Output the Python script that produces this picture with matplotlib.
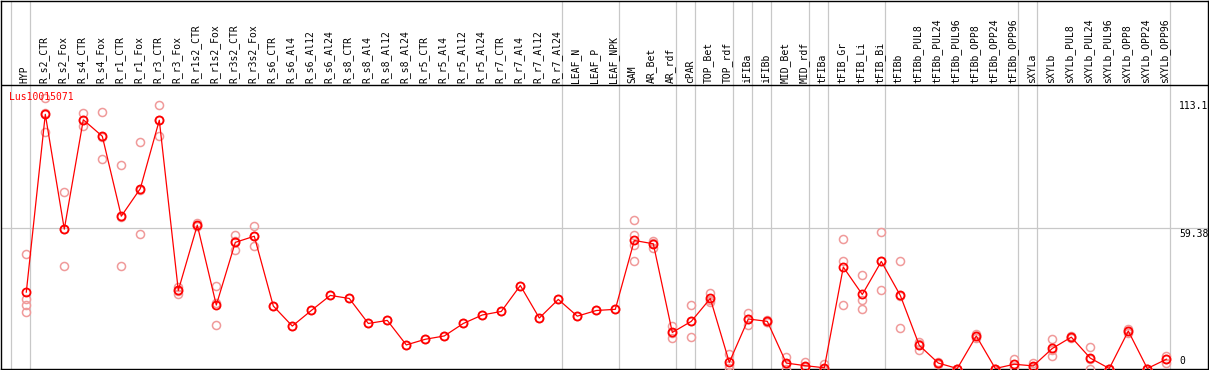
import matplotlib
matplotlib.use("Agg")
import matplotlib.pyplot as plt

# sample names, in plotting order
samples = [
    "HYP", "R_s2_CTR", "R_s2_Fox", "R_s4_CTR", "R_s4_Fox", "R_r1_CTR", "R_r1_Fox",
    "R_r3_CTR", "R_r3_Fox", "R_r1s2_CTR", "R_r1s2_Fox", "R_r3s2_CTR", "R_r3s2_Fox",
    "R_s6_CTR", "R_s6_Al4", "R_s6_Al12", "R_s6_Al24", "R_s8_CTR", "R_s8_Al4",
    "R_s8_Al12", "R_s8_Al24", "R_r5_CTR", "R_r5_Al4", "R_r5_Al12", "R_r5_Al24",
    "R_r7_CTR", "R_r7_Al4", "R_r7_Al12", "R_r7_Al24", "LEAF_N", "LEAF_P", "LEAF_NPK",
    "SAM", "AR_Bet", "AR_rdf", "cPAR", "TOP_Bet", "TOP_rdf", "iFIBa", "iFIBb",
    "MID_Bet", "MID_rdf", "tFIBa", "tFIB_Gr", "tFIB_Li", "tFIB_Bi", "tFIBb",
    "tFIBb_PUL8", "tFIBb_PUL24", "tFIBb_PUL96", "tFIBb_OPP8", "tFIBb_OPP24",
    "tFIBb_OPP96", "sXYLa", "sXYLb", "sXYLb_PUL8", "sXYLb_PUL24", "sXYLb_PUL96",
    "sXYLb_OPP8", "sXYLb_OPP24", "sXYLb_OPP96",
]

# number of samples in each tissue group (gray separators)
group_sizes = [1, 28, 3, 3, 1, 2, 1, 1, 2, 1, 3, 7, 1, 7]

# mean expression
means = [
    32.4, 107.8, 59.1, 105.5, 98.5, 64.6, 76.3, 105.3, 33.1, 60.8, 26.9, 53.5, 56.1,
    26.5, 18.0, 24.6, 31.0, 29.7, 19.1, 20.4, 10.0, 12.4, 13.8, 19.1, 22.7,
    24.2, 35.2, 21.4, 29.3, 22.2, 24.6, 25.1,
    54.3, 52.9, 15.3, 20.0, 29.7, 2.6, 21.0, 20.0, 2.3, 1.2, 0.3,
    43.0, 31.4, 45.4, 31.0, 9.8, 2.3, 0.0, 13.8, 0.0, 1.8,
    1.1, 8.5, 13.3, 4.4, 0.0, 15.9, 0.0, 3.9,
]

# individual replicates
replicates = [
    [48.5, 29.3, 26.8, 23.8], [114.9, 100.3, 108.2], [74.8, 43.4, 59.1],
    [108.3, 102.7, 105.5], [108.6, 88.7, 98.3], [86.1, 43.4, 64.3],
    [96.2, 57.0, 75.7], [111.6, 98.8, 105.5], [34.6, 31.8, 33.0],
    [61.5, 60.5, 60.4], [34.8, 18.3, 27.6], [56.5, 50.1, 53.9], [60.4, 51.8, 56.1],
    [26.5], [18.0], [24.6], [31.0], [29.7], [19.1], [20.4], [10.0], [12.4], [13.8],
    [19.1], [22.7], [24.2], [35.2], [21.4], [29.3], [22.2], [24.6], [25.1],
    [62.8, 56.8, 52.3, 45.4], [53.3, 51.3, 54.1], [18.0, 12.8, 15.1],
    [26.8, 13.2, 20.0], [32.1, 28.0, 29.0], [6.3, 0.1, 1.4], [23.5, 18.3, 21.2],
    [20.5, 19.6, 19.9], [5.0, 0.0, 1.9], [2.6, 0.5, 0.5], [1.9, 0.0, 0.0],
    [55.1, 45.8, 26.8], [39.5, 29.0, 25.1], [57.7, 33.1, 45.4], [45.4, 17.0, 30.6],
    [11.4, 7.8, 10.2], [2.8, 2.0, 2.1], [0.0, 0.0, 0.0], [14.6, 13.0, 13.8],
    [0.0, 0.0, 0.0], [4.0, 0.8, 0.6], [2.5, 0.5, 0.3], [12.4, 5.3, 7.8],
    [13.8, 12.9, 13.2], [9.1, 0.0, 4.1], [0.0, 0.0, 0.0], [16.6, 15.2, 15.9],
    [0.0, 0.0, 0.0], [5.3, 2.2, 4.2],
]

ytick_vals = [113.1, 59.38, 0]
ytick_text = ["113.1", "59.38", "0"]
gene = "Lus10015071"

W, H = 1209, 370
fig = plt.figure(figsize=(W / 100, H / 100), dpi=100)
ax = fig.add_axes([1 / W, 1 / H, 1207 / W, 368.5 / H])

# pixel mapping: x_px = 26.3 + 19*i, y_px = 368.5 - 2.361*v
px_per_cat = 19.0
px_per_unit = 2.361
ax.set_xlim((1 - 26.3) / px_per_cat, (1208 - 26.3) / px_per_cat)
ax.set_ylim((368.5 - 369) / px_per_unit, 368.5 / px_per_unit)
ax.set_xticks([])
ax.set_yticks([])
for s in ax.spines.values():
    s.set_color("black")
    s.set_linewidth(1)

gray = "#c8c8c8"
mono = "DejaVu Sans Mono"

# group separators
ax.axvline(-0.8, color=gray, lw=0.9, zorder=1)
pos = -1
for g in group_sizes:
    pos += g
    ax.axvline(pos + 0.2, color=gray, lw=0.9, zorder=1)

# grid line at middle tick
ax.axhline(ytick_vals[1], color=gray, lw=0.9, zorder=1)

# header separator
header_v = (368.5 - 85) / px_per_unit
ax.axhline(header_v, color="black", lw=1, zorder=2)

# sample labels
label_v = (368.5 - 83) / px_per_unit
for i, name in enumerate(samples):
    ax.text(i - 0.08, label_v, name, rotation=90, ha="center", va="bottom",
            fontsize=7, family=mono, color="black")

# replicates
for i, reps in enumerate(replicates):
    ax.plot([i] * len(reps), reps, linestyle="none", marker="o", markersize=5.8,
            markerfacecolor="none", markeredgecolor="#f09a9a", markeredgewidth=1.1,
            zorder=3)

# mean line
x = list(range(len(samples)))
ax.plot(x, means, color="red", lw=0.9, marker="o", markersize=5.8,
        markerfacecolor="none", markeredgecolor="red", markeredgewidth=1.3, zorder=4)

# value ticks on the right
tick_x = (1179 - 26.3) / px_per_cat
ax.text(tick_x, ytick_vals[0] + 0.5, ytick_text[0], ha="left", va="top",
        fontsize=7, family=mono)
ax.text(tick_x, ytick_vals[1] - 0.3, ytick_text[1], ha="left", va="top",
        fontsize=7, family=mono)
ax.text(tick_x, ytick_vals[2] + 1.0, ytick_text[2], ha="left", va="bottom",
        fontsize=7, family=mono)

# gene id
ax.text((9 - 26.3) / px_per_cat, (368.5 - 96.7) / px_per_unit, gene, ha="left",
        va="center", fontsize=7, family=mono, color="red", zorder=5)

fig.savefig("out.png", dpi=100)
